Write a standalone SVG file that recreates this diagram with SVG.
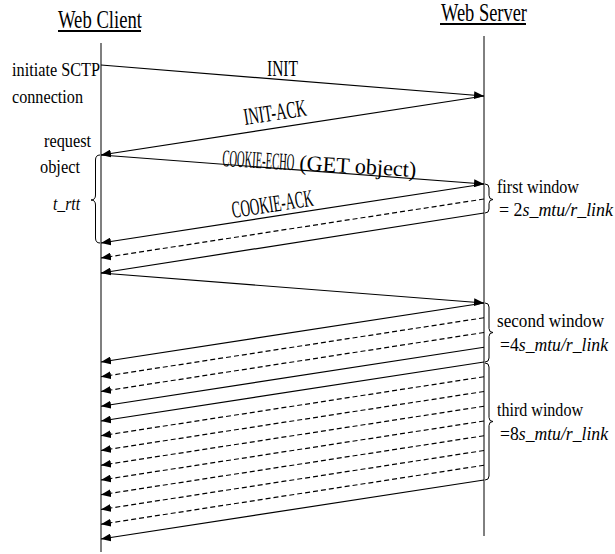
<svg xmlns="http://www.w3.org/2000/svg" width="615" height="554" viewBox="0 0 615 554">
  <style>
    text { font-family: "Liberation Serif", "Times New Roman", "DejaVu Serif", serif; fill: #000; }
    .title { font-size: 25px; }
    .msg { font-size: 24px; }
    .paren { font-size: 22px; }
    .note { font-size: 18px; }
    .it { font-style: italic; }
    .life-c { stroke: #555; stroke-width: 1.5; fill: none; }
    .life-s { stroke: #000; stroke-width: 1; fill: none; }
    .uline { stroke: #000; stroke-width: 2; }
    .pkt { stroke: #000; stroke-width: 1.2; fill: none; marker-end: url(#head); }
    .dash { stroke-dasharray: 5 3; }
    .brace { stroke: #000; stroke-width: 1; fill: none; }
  </style>
  <defs>
    <marker id="head" viewBox="0 0 10 8" refX="10" refY="4" markerWidth="10" markerHeight="8" markerUnits="userSpaceOnUse" orient="auto">
      <path d="M0,0 L10,4 L0,8 z" fill="#000"/>
    </marker>
  </defs>

  <rect width="615" height="554" fill="#fff"/>

  <g font-family="'Liberation Serif', 'Times New Roman', serif">
  <!-- client lifeline -->
  <g id="web-client">
    <text class="title" x="58" y="28" textLength="84" lengthAdjust="spacingAndGlyphs">Web Client</text>
    <line class="uline" x1="58" y1="31" x2="141" y2="31"/>
    <line class="life-c" x1="101" y1="43" x2="101" y2="552"/>
  </g>

  <!-- server lifeline -->
  <g id="web-server">
    <text class="title" x="441" y="21" textLength="86" lengthAdjust="spacingAndGlyphs">Web Server</text>
    <line class="uline" x1="440" y1="24" x2="526" y2="24"/>
    <line class="life-s" x1="484" y1="36" x2="484" y2="536"/>
  </g>

  <!-- client side notes -->
  <g id="client-notes">
    <text class="note" x="12" y="76" textLength="88" lengthAdjust="spacingAndGlyphs">initiate SCTP</text>
    <text class="note" x="12" y="103" textLength="71" lengthAdjust="spacingAndGlyphs">connection</text>
    <text class="note" x="44" y="147" textLength="47" lengthAdjust="spacingAndGlyphs">request</text>
    <text class="note" x="40" y="173" textLength="40" lengthAdjust="spacingAndGlyphs">object</text>
    <text class="note it" x="53" y="210" textLength="27" lengthAdjust="spacingAndGlyphs">t_rtt</text>
    <path class="brace" d="M100,155 Q95.5,155 95.5,160 L95.5,195 Q95.5,200 91,200 Q95.5,200 95.5,205 L95.5,238 Q95.5,243 100,243"/>
  </g>

  <!-- server side window notes -->
  <g id="first-window">
    <path class="brace" d="M485,184 Q489,184 489,188 L489,195.5 Q489,199.5 493,199.5 Q489,199.5 489,203.5 L489,209 Q489,213 485,213"/>
    <text class="note" x="497" y="193" textLength="82" lengthAdjust="spacingAndGlyphs">first window</text>
    <text class="note" x="499" y="216" textLength="114" lengthAdjust="spacingAndGlyphs">= 2<tspan class="it">s_mtu/r_link</tspan></text>
  </g>
  <g id="second-window">
    <path class="brace" d="M485,303 Q489,303 489,307 L489,328.5 Q489,332.5 493,332.5 Q489,332.5 489,336.5 L489,358 Q489,362 485,362"/>
    <text class="note" x="497" y="327" textLength="107" lengthAdjust="spacingAndGlyphs">second window</text>
    <text class="note" x="500" y="351" textLength="108" lengthAdjust="spacingAndGlyphs">=4<tspan class="it">s_mtu/r_link</tspan></text>
  </g>
  <g id="third-window">
    <path class="brace" d="M485,363 Q489,363 489,367 L489,417.5 Q489,421.5 493,421.5 Q489,421.5 489,425.5 L489,476 Q489,480 485,480"/>
    <text class="note" x="497" y="416" textLength="86" lengthAdjust="spacingAndGlyphs">third window</text>
    <text class="note" x="500" y="440" textLength="108" lengthAdjust="spacingAndGlyphs">=8<tspan class="it">s_mtu/r_link</tspan></text>
  </g>

  <!-- message labels -->
  <g id="labels">
    <text class="msg" x="267" y="76" textLength="31" lengthAdjust="spacingAndGlyphs">INIT</text>
    <text class="msg" x="245" y="125" textLength="63" lengthAdjust="spacingAndGlyphs" transform="rotate(-8.76 245 125)">INIT-ACK</text>
    <text class="msg" x="222" y="166" textLength="72" lengthAdjust="spacingAndGlyphs" transform="rotate(3.4 222 166)">COOKIE-ECHO</text>
    <text class="paren" x="299" y="170" textLength="117" lengthAdjust="spacingAndGlyphs" transform="rotate(3.4 299 170)">(GET object)</text>
    <text class="msg" x="233" y="218" textLength="82" lengthAdjust="spacingAndGlyphs" transform="rotate(-8.76 233 218)">COOKIE-ACK</text>
  </g>
  </g>

  <!-- packets -->
  <g id="connectors">
    <line class="pkt" x1="101" y1="65" x2="484" y2="96"/>
    <line class="pkt" x1="484" y1="96" x2="101" y2="155"/>
    <line class="pkt" x1="101" y1="155" x2="484" y2="184"/>
    <line class="pkt" x1="484" y1="184" x2="101" y2="243"/>
    <line class="pkt dash" x1="484" y1="199" x2="101" y2="258"/>
    <line class="pkt" x1="484" y1="213" x2="101" y2="273"/>
    <line class="pkt" x1="101" y1="273" x2="484" y2="303"/>
    <!-- second window -->
    <line class="pkt" x1="484" y1="303" x2="101" y2="362"/>
    <line class="pkt dash" x1="484" y1="317.75" x2="101" y2="376.75"/>
    <line class="pkt dash" x1="484" y1="332.5" x2="101" y2="391.5"/>
    <line class="pkt" x1="484" y1="347.25" x2="101" y2="406.25"/>
    <!-- third window -->
    <line class="pkt" x1="484" y1="362" x2="101" y2="421"/>
    <line class="pkt dash" x1="484" y1="376.75" x2="101" y2="435.75"/>
    <line class="pkt dash" x1="484" y1="391.5" x2="101" y2="450.5"/>
    <line class="pkt dash" x1="484" y1="406.25" x2="101" y2="465.25"/>
    <line class="pkt dash" x1="484" y1="421" x2="101" y2="480"/>
    <line class="pkt dash" x1="484" y1="435.75" x2="101" y2="494.75"/>
    <line class="pkt dash" x1="484" y1="450.5" x2="101" y2="509.5"/>
    <line class="pkt dash" x1="484" y1="465.25" x2="101" y2="524.25"/>
    <line class="pkt" x1="484" y1="480" x2="101" y2="539"/>
  </g>
</svg>
